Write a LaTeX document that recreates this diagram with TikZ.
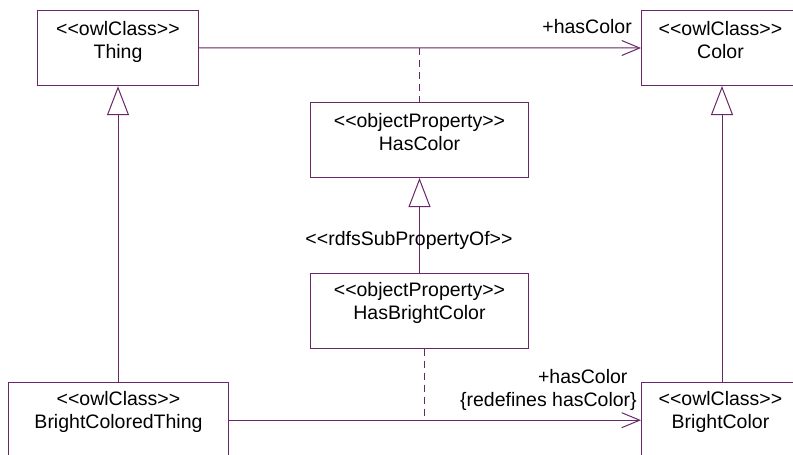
\documentclass[tikz,border=0pt]{standalone}
\usepackage{fontspec}
\setmainfont{Liberation Sans}
\usetikzlibrary{arrows.meta}
\definecolor{umlline}{RGB}{104,40,104}
\newcommand\boxtext[4]{\parbox[c][#1][t]{#2}{\centering\fontsize{19.5}{23}\selectfont\rule{0pt}{#3}#4}}
\newcommand\LLt{<\kern0pt<}
\newcommand\GGt{>\kern0pt>}
\begin{document}
\begin{tikzpicture}[x=1pt,y=-1pt,
  umlbox/.style={draw=umlline, line width=1pt, rectangle, inner sep=0pt, anchor=north west},
  assoc/.style={draw=umlline, line width=1pt, -{Straight Barb[length=18pt,width=15pt]}},
  general/.style={draw=umlline, line width=1pt, -{Triangle[open,length=29pt,width=22pt,fill=white]}},
  dashline/.style={draw=umlline, line width=1pt, dash pattern=on 7pt off 5pt},
  lbl/.style={inner sep=0pt, anchor=base east, font=\fontsize{19.5}{23}\selectfont}]
\useasboundingbox (0,0) rectangle (793,455);
\node[umlbox] (thing) at (37,9.7) {\boxtext{75.5pt}{161pt}{25.5pt}{\LLt owlClass\GGt\\Thing}};
\node[umlbox] (color) at (641,10) {\boxtext{75pt}{158pt}{25pt}{\LLt owlClass\GGt\\Color}};
\node[umlbox] (hascolor) at (310,102) {\boxtext{75pt}{218pt}{24.5pt}{\LLt objectProperty\GGt\\HasColor}};
\node[umlbox] (hasbright) at (310,272.7) {\boxtext{75pt}{218pt}{23.5pt}{\LLt objectProperty\GGt\\HasBrightColor}};
\node[umlbox] (bct) at (8,381.7) {\boxtext{76pt}{220pt}{23.5pt}{\LLt owlClass\GGt\\BrightColoredThing}};
\node[umlbox] (bcolor) at (641,381.7) {\boxtext{76pt}{158pt}{23.5pt}{\LLt owlClass\GGt\\BrightColor}};
% associations
\draw[assoc] (thing.east) -- (color.west);
\draw[assoc] (bct.east) -- (bcolor.west);
% association classes (dashed)
\coordinate (topmid) at (hascolor.north |- thing.east);
\draw[dashline] (topmid) -- (hascolor.north);
\coordinate (botmid) at ([xshift=5pt]hasbright.south |- bct.east);
\draw[dashline] ([xshift=5pt]hasbright.south) -- (botmid);
% generalizations
\draw[general] (hasbright.north) -- (hascolor.south);
\draw[general] (thing.south |- bct.north) -- (thing.south);
\draw[general] ([xshift=1.5pt]color.south |- bcolor.north) -- ([xshift=1.5pt]color.south);
% labels
\node[lbl] (lbltop) at (632,34) {+hasColor};
\node[lbl] (lblbota) at (627.7,383.3) {+hasColor};
\node[lbl] (lblbotb) at (637,406.5) {\{redefines hasColor\}};
\node[lbl, anchor=base] (subprop) at (409,245) {\LLt rdfsSubPropertyOf\GGt};
\end{tikzpicture}
\end{document}
